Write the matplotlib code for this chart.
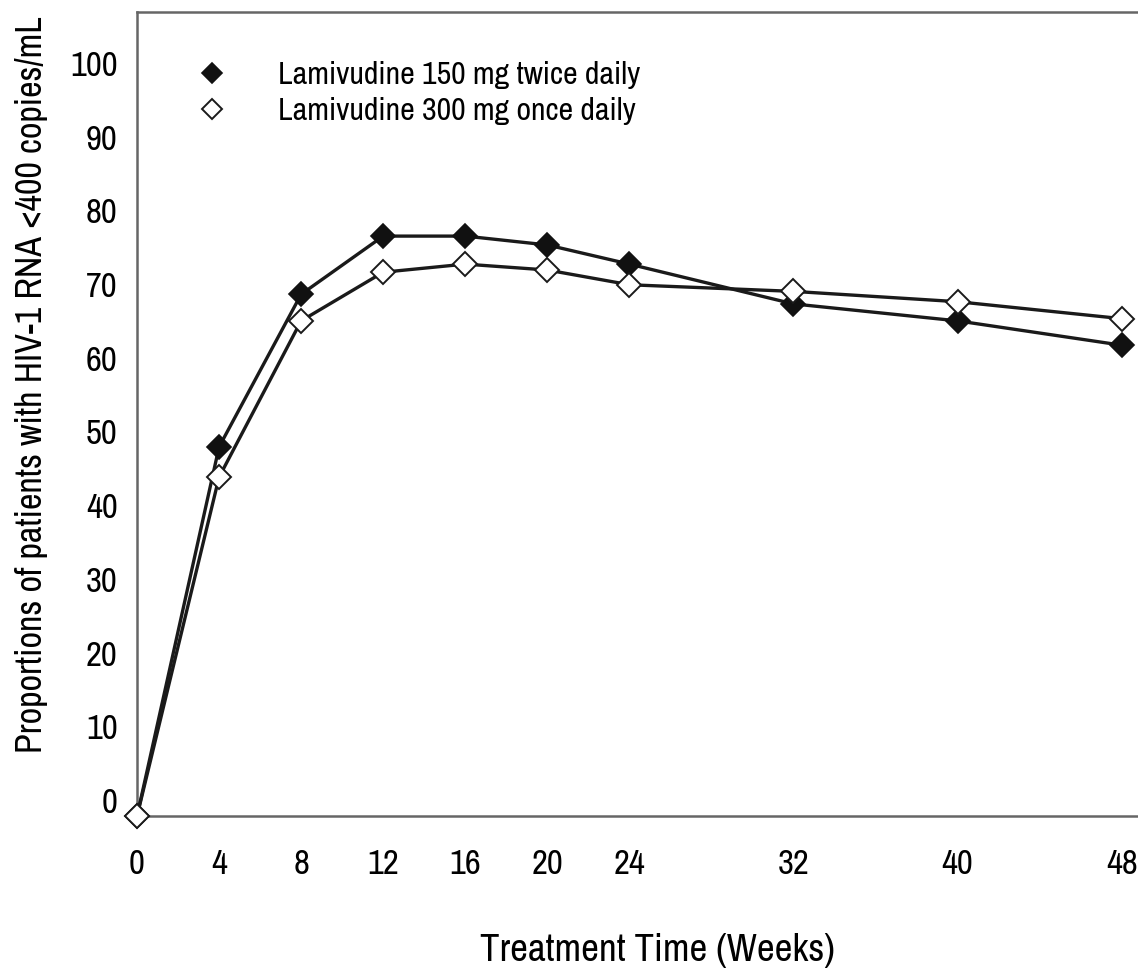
import matplotlib.pyplot as plt
from matplotlib import font_manager as fm

# weeks on treatment
weeks = [0, 4, 8, 12, 16, 20, 24, 32, 40, 48]
# % of patients with HIV-1 RNA < 400 copies/mL
bid_150 = [-2.2, 47.9, 68.6, 76.5, 76.5, 75.3, 72.7, 67.3, 65.0, 61.7]
qd_300 = [-2.2, 43.8, 65.0, 71.6, 72.7, 71.9, 69.9, 69.0, 67.6, 65.3]

xticks = [0, 4, 8, 12, 16, 20, 24, 32, 40, 48]
yticks = list(range(0, 101, 10))

# the original uses a condensed grotesque; take a narrow face if there is one
fonts = fm.fontManager.ttflist
narrow = [f.name for f in fonts if "Narrow" in f.name or "Condensed" in f.name]
if "Liberation Sans Narrow" in narrow:
    plt.rcParams['font.family'] = ['Liberation Sans Narrow', 'DejaVu Sans']
elif narrow:
    plt.rcParams['font.family'] = [narrow[0], 'DejaVu Sans']
else:
    plt.rcParams['font.family'] = ['DejaVu Sans']
    if any(f.name == "DejaVu Sans" and f.stretch == "condensed" for f in fonts):
        plt.rcParams['font.stretch'] = 'condensed'

fig = plt.figure(figsize=(11.38, 9.77), dpi=100)
ax = fig.add_axes([0.1204, 0.1648, 0.89, 0.8229])

ax.plot(weeks, bid_150, color="#1a1a1a", lw=2.4, marker="D", ms=12.5,
        mfc="#111111", mec="#111111", mew=1.2, clip_on=False, zorder=3,
        label="Lamivudine 150 mg twice daily")
ax.plot(weeks, qd_300, color="#1a1a1a", lw=2.4, marker="D", ms=12.5,
        mfc="white", mec="#1a1a1a", mew=1.4, clip_on=False, zorder=4,
        label="Lamivudine 300 mg once daily")

ax.set_xlim(0, 49.37)
ax.set_ylim(-2.17, 106.9)

ax.set_xticks(xticks)
ax.set_yticks(yticks)
ax.tick_params(axis="x", direction="out", length=11, width=1.5, color="#555555",
               labelsize=25, pad=12)
ax.tick_params(axis="y", length=0, labelsize=25, pad=14)
for t in ax.xaxis.get_major_ticks():
    if t.get_loc() in (0, 20):
        t.tick1line.set_visible(False)

for side in ["left", "top", "bottom"]:
    ax.spines[side].set_color("#666666")
    ax.spines[side].set_linewidth(1.8)
ax.spines["right"].set_visible(False)

ax.set_xlabel("Treatment Time (Weeks)", fontsize=28)
ax.set_ylabel("Proportions of patients with HIV-1 RNA <400 copies/mL",
              fontsize=26)
ax.xaxis.set_label_coords(0.514, -0.146)
ax.yaxis.set_label_coords(-0.088, 0.536)

ax.legend(loc="upper left", bbox_to_anchor=(0.03, 0.975), frameon=False,
          fontsize=23, handlelength=1.0, handletextpad=1.55, labelspacing=0.25,
          markerscale=0.85)
for line in ax.get_legend().get_lines():
    line.set_linestyle("none")

fig.savefig("out.png", dpi=100)
